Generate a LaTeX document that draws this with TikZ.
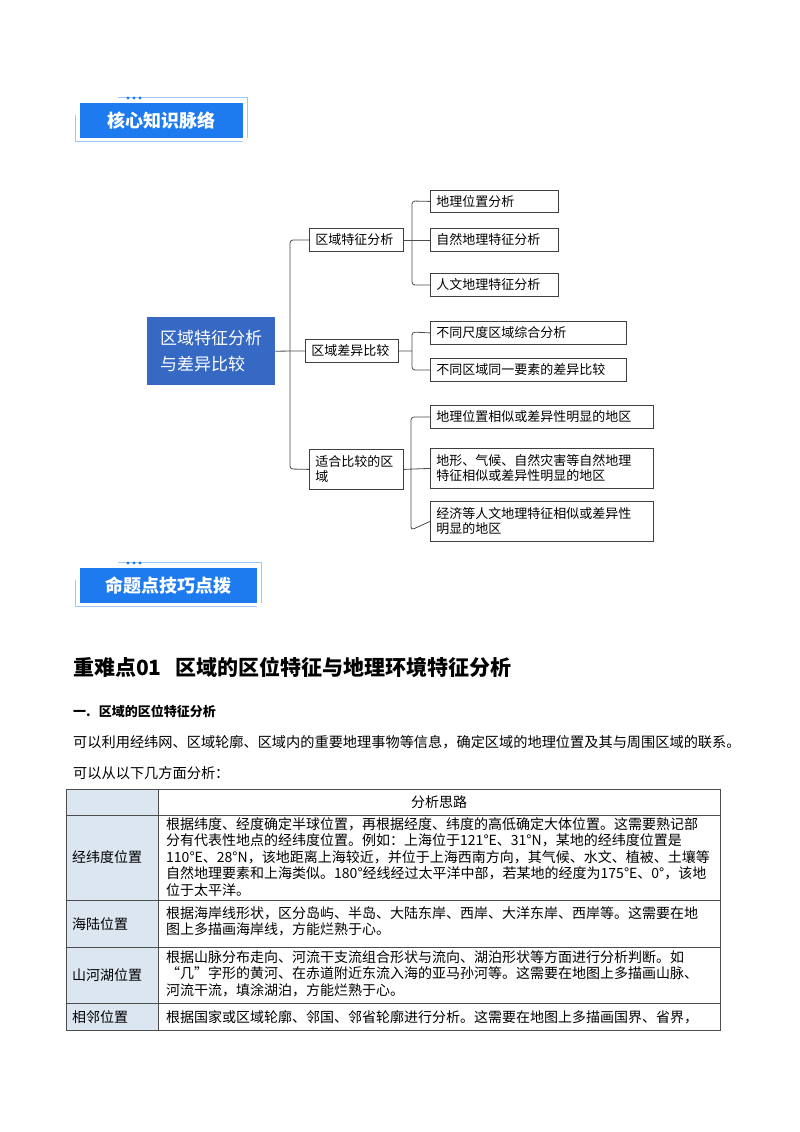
\documentclass[tikz,border=0pt]{standalone}
\usepackage{fontspec}
\setmainfont{Noto Sans CJK SC}
\definecolor{bbl}{HTML}{1E7BEF}
\definecolor{lbl}{HTML}{9CC8F5}
\definecolor{rootc}{HTML}{3569C4}
\definecolor{cellc}{HTML}{DCE6F1}
\tikzset{
 leaf/.style={draw=black!75,line width=0.8pt,minimum height=23pt,inner xsep=6pt,inner ysep=4pt,anchor=north west,font=\fontsize{13}{15}\selectfont,align=left},
 conn/.style={draw=black!70,line width=0.8pt,rounded corners=3pt},
 tx/.style={anchor=west,inner sep=0pt,font=\fontsize{14}{16}\selectfont},
 cellt/.style={anchor=north west,inner sep=0pt,text width=550pt,align=justify},
 badge/.style={fill=bbl,text=white,font=\fontsize{18}{20}\selectfont\bfseries,inner sep=0pt}
}
\begin{document}
\begin{tikzpicture}[x=1pt,y=-1pt]
\useasboundingbox[fill=white] (0,0) rectangle (800,1132);
% badges
\foreach \yy/\w/\txt [count=\i] in {103/163/核心知识脉络, 568/177/命题点技巧点拨}{
 \draw[lbl,line width=1pt] (118,\yy-6) -- (80+\w+4,\yy-6) -- (80+\w+4,\yy+35);
 \draw[lbl,line width=1pt] (75,\yy+12) -- (75,\yy+38) -- (80+\w,\yy+38);
 \fill[bbl] (80,\yy) rectangle (80+\w,\yy+35);
 \node[badge] (b\i) at (80+\w/2,\yy+17.5) {\txt};
 \foreach \dx in {0,6,12}{\fill[bbl] (128+\dx,\yy-5) circle (1.6);}
}
% tree
\node[fill=rootc,text=white,minimum width=128pt,minimum height=68pt,anchor=north west,inner sep=6pt,align=left,font=\fontsize{17}{26}\selectfont] (root) at (147,317) {区域特征分析\\与差异比较};
\node[leaf,text width=82pt] (a) at (309,228) {区域特征分析};
\node[leaf,text width=81pt] (b) at (305,339) {区域差异比较};
\node[leaf,text width=82pt,minimum height=40pt] (c) at (309,449) {适合比较的区\\域};
\node[leaf,text width=116pt,minimum height=22pt] (a1) at (430,190) {地理位置分析};
\node[leaf,text width=116pt] (a2) at (430,228) {自然地理特征分析};
\node[leaf,text width=116pt] (a3) at (430,273) {人文地理特征分析};
\node[leaf,text width=184pt] (b1) at (430,321) {不同尺度区域综合分析};
\node[leaf,text width=184pt] (b2) at (430,358) {不同区域同一要素的差异比较};
\node[leaf,text width=211pt] (c1) at (430,405) {地理位置相似或差异性明显的地区};
\node[leaf,text width=211pt,minimum height=40pt] (c2) at (430,448) {地形、气候、自然灾害等自然地理\\特征相似或差异性明显的地区};
\node[leaf,text width=211pt,minimum height=40pt] (c3) at (430,501) {经济等人文地理特征相似或差异性\\明显的地区};
\draw[conn] (root.east) -- (b.west);
\draw[conn] (a.west) -- (290,240) -- (290,469) -- (c.west);
\draw[conn] (a.east) -- (a2.west);
\draw[conn] (a1.west) -- (412,201) -- (412,285) -- (a3.west);
\draw[conn] (b.east) -- (412,351);
\draw[conn] (b1.west) -- (412,332) -- (412,370) -- (b2.west);
\draw[conn] (c.east) -- (c2.west);
\draw[conn] (c1.west) -- (411,417) -- (411,530) -- (c3.west);
% headings
\node[tx,font=\fontsize{21}{24}\selectfont\bfseries] (h1) at (73,667) {重难点01\hspace{14pt}区域的区位特征与地理环境特征分析};
\node[tx,font=\fontsize{13}{15}\selectfont\bfseries] (h2) at (73,711) {一.\hspace{8pt}区域的区位特征分析};
\node[tx,font=\fontsize{14.2}{16}\selectfont] (p1) at (73,742) {可以利用经纬网、区域轮廓、区域内的重要地理事物等信息，确定区域的地理位置及其与周围区域的联系。};
\node[tx,font=\fontsize{14.2}{16}\selectfont] (p2) at (73,773) {可以从以下几方面分析：};
% table
\fill[cellc] (66,789) rectangle (158,1030);
\draw[black!70,line width=0.8pt] (66,789) rectangle (720,1030);
\foreach \yy in {815,900,947,1003}{\draw[black!70,line width=0.8pt] (66,\yy) -- (720,\yy);}
\draw[black!70,line width=0.8pt] (158,789) -- (158,1030);
\node[tx,anchor=center] (th) at (439,802) {分析思路};
\node[tx] (r1) at (72,857) {经纬度位置};
\node[tx] (r2) at (72,924) {海陆位置};
\node[tx] (r3) at (72,975) {山河湖位置};
\node[tx] (r4) at (72,1017) {相邻位置};
\node[cellt,font=\fontsize{14}{16.5}\selectfont] (t1) at (166,817) {根据纬度、经度确定半球位置，再根据经度、纬度的高低确定大体位置。这需要熟记部\\分有代表性地点的经纬度位置。例如：上海位于121°E、31°N，某地的经纬度位置是\\110°E、28°N，该地距离上海较近，并位于上海西南方向，其气候、水文、植被、土壤等\\自然地理要素和上海类似。180°经线经过太平洋中部，若某地的经度为175°E、0°，该地\\位于太平洋。};
\node[cellt,font=\fontsize{14}{16.5}\selectfont] (t2) at (166,906) {根据海岸线形状，区分岛屿、半岛、大陆东岸、西岸、大洋东岸、西岸等。这需要在地\\图上多描画海岸线，方能烂熟于心。};
\node[cellt,font=\fontsize{14}{16.5}\selectfont] (t3) at (166,950) {根据山脉分布走向、河流干支流组合形状与流向、湖泊形状等方面进行分析判断。如\\“几”字形的黄河、在赤道附近东流入海的亚马孙河等。这需要在地图上多描画山脉、\\河流干流，填涂湖泊，方能烂熟于心。};
\node[tx] (t4) at (166,1017) {根据国家或区域轮廓、邻国、邻省轮廓进行分析。这需要在地图上多描画国界、省界，};
\end{tikzpicture}
\end{document}
